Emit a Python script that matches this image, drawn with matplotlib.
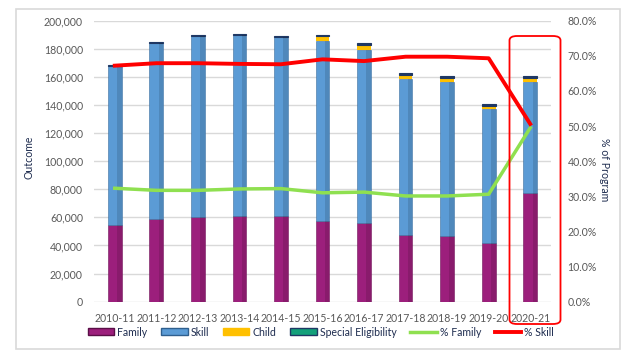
import numpy as np
import matplotlib.pyplot as plt
from matplotlib.patches import FancyBboxPatch, Rectangle
from matplotlib.lines import Line2D
from matplotlib.ticker import FuncFormatter

plt.rcParams['font.family'] = ['Lato', 'DejaVu Sans']

years = ['2010-11', '2011-12', '2012-13', '2013-14', '2014-15', '2015-16',
         '2016-17', '2017-18', '2018-19', '2019-20', '2020-21']
family = [54600, 58600, 60100, 61200, 61200, 57400, 56200, 47500, 47000, 42000, 77100]
skill = [113200, 125600, 129000, 128300, 127100, 128100, 122900, 111000, 109600, 95400, 79500]
child = [0, 0, 0, 0, 0, 3400, 3600, 3000, 2900, 2200, 2900]
special = [700, 800, 900, 800, 800, 1100, 1200, 1100, 900, 900, 900]
pct_family = [32.3, 31.7, 31.7, 32.1, 32.2, 31.0, 31.2, 30.1, 30.1, 30.6, 49.5]
pct_skill = [67.2, 67.9, 67.9, 67.7, 67.6, 69.0, 68.5, 69.75, 69.75, 69.3, 50.6]

c_family = '#9c1f7c'
c_skill = '#5b9bd5'
c_child = '#ffc000'
c_special = '#13a07a'
c_navy = '#1f3864'
c_pfam = '#8fe050'
c_pskill = '#ff0000'
grey = '#595959'
fs = 7.6

fig = plt.figure(figsize=(6.32, 3.61), dpi=100)
fig.patches.append(Rectangle((16 / 632, 1 - 349 / 361), 604 / 632, 340 / 361,
                             transform=fig.transFigure, fill=False,
                             edgecolor='#d9d9d9', linewidth=1.2))
ax = fig.add_axes([94 / 632, 1 - 301.7 / 361, 457 / 632, 281 / 361])

x = np.arange(len(years))
w = 0.33
fam = np.array(family)
sk = np.array(skill)
ch = np.array(child)
se = np.array(special)
ax.bar(x, fam, w, color=c_family, edgecolor='#6e1457', linewidth=0.4, zorder=3)
ax.bar(x, sk, w, bottom=fam, color=c_skill, edgecolor='#3d6f9e', linewidth=0.4, zorder=3)
ax.bar(x, ch, w, bottom=fam + sk, color=c_child, linewidth=0, zorder=3)
ax.bar(x, se, w, bottom=fam + sk + ch, color=c_navy, edgecolor=c_navy,
       linewidth=0.8, zorder=3)
# darker right side of each bar, like the shaded fill of the original
ax.bar(x + w / 3, fam + sk, w / 3, color='black', alpha=0.12, linewidth=0, zorder=3.5)

ax.set_xlim(-0.5, len(years) - 0.5)
ax.set_ylim(0, 200000)
ax.set_yticks(np.arange(0, 200001, 20000))
ax.yaxis.set_major_formatter(FuncFormatter(lambda v, p: f'{int(v):,}'))
ax.grid(axis='y', color='#d9d9d9', linewidth=1, zorder=0)
ax.set_xticks(x)
ax.set_xticklabels(years)
for s in ax.spines.values():
    s.set_visible(False)
ax.tick_params(length=0, labelsize=fs, colors=grey, pad=8)
ax.tick_params(axis='x', pad=8)
ax.set_ylabel('Outcome', fontsize=fs, color='#1f2d50')
ax.yaxis.set_label_coords(-0.131, 0.515)

ax2 = ax.twinx()
ax2.plot(x, pct_family, color=c_pfam, linewidth=2.5, zorder=4)
ax2.plot(x, pct_skill, color=c_pskill, linewidth=2.8, zorder=4)
ax2.set_ylim(0, 80)
ax2.set_yticks(np.arange(0, 81, 10))
ax2.yaxis.set_major_formatter(FuncFormatter(lambda v, p: f'{v:.1f}%'))
for s in ax2.spines.values():
    s.set_visible(False)
ax2.tick_params(length=0, labelsize=fs, colors=grey, pad=12)
ax2.set_ylabel('% of Program', fontsize=fs, color='#1f2d50', rotation=270,
               va='center')
ax2.yaxis.set_label_coords(1.118, 0.469)

# highlight box around the last year
box = FancyBboxPatch((509.5 / 632, 1 - 324 / 361), 51 / 632, 288 / 361,
                     boxstyle='round,pad=0,rounding_size=0.012',
                     transform=fig.transFigure, fill=False,
                     edgecolor='#ff0000', linewidth=1.3)
fig.patches.append(box)

handles = [
    Rectangle((0, 0), 1, 1, facecolor=c_family, edgecolor='#5a0f47'),
    Rectangle((0, 0), 1, 1, facecolor=c_skill, edgecolor='#2f5f8e'),
    Rectangle((0, 0), 1, 1, facecolor=c_child, edgecolor=c_child),
    Rectangle((0, 0), 1, 1, facecolor=c_special, edgecolor=c_navy),
    Line2D([], [], color=c_pfam, linewidth=2.5),
    Line2D([], [], color=c_pskill, linewidth=2.8),
]
labels = ['Family', 'Skill', 'Child', 'Special Eligibility', '% Family', '% Skill']
fig.legend(handles, labels, loc='center', bbox_to_anchor=(321 / 632, 1 - 332 / 361),
           ncol=6, frameon=False, fontsize=fs, handlelength=2.5, handleheight=0.6,
           handletextpad=0.3, columnspacing=1.3, labelcolor='#1f2d50')

fig.savefig('out.png', dpi=100)
